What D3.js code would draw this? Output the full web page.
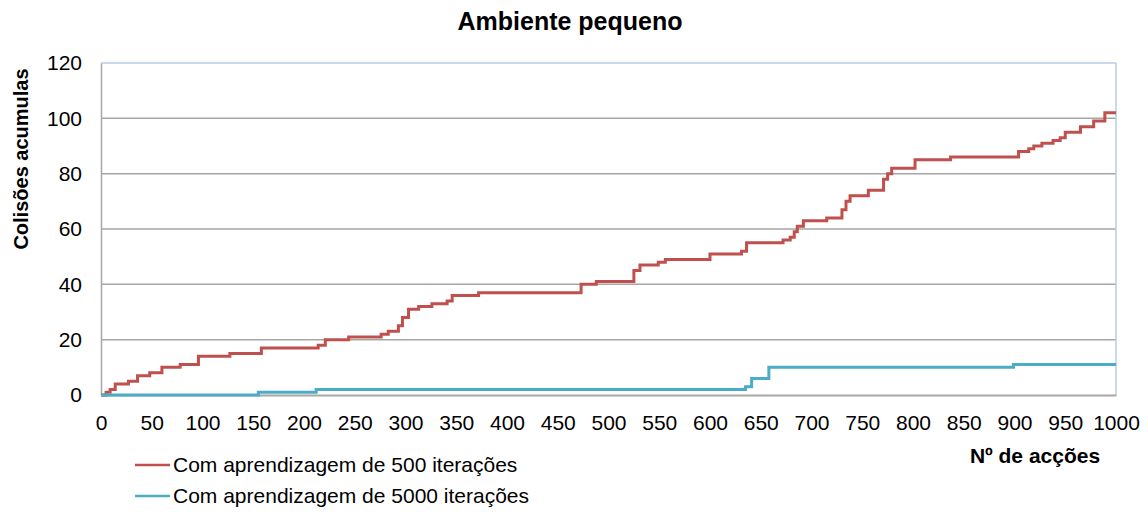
<!doctype html>
<html lang="pt">
<head>
<meta charset="utf-8">
<title>Ambiente pequeno</title>
<script src="https://d3js.org/d3.v7.min.js"></script>
<style>
  body { margin: 0; background: #fff; }
  svg { font-family: "Liberation Sans", Arial, Helvetica, sans-serif; }
  .tick text { font-size: 21px; fill: #000; }
  .grid line { stroke: #a6a6a6; stroke-width: 1.5px; }
  .title, .axis-title { font-weight: bold; fill: #000; }
</style>
</head>
<body>
<svg width="1148" height="514"></svg>
<script>
// data: action where the count changes, new count
var redActions = [0, 5, 9, 14, 27, 36, 48, 60, 78, 96, 127, 158, 214, 221, 244, 276, 283, 293, 297, 303, 313, 326, 341, 346, 372, 473, 488, 525, 531, 549, 556, 600, 631, 636, 672, 679, 683, 686, 692, 715, 730, 734, 738, 756, 771, 775, 779, 802, 837, 904, 914, 919, 927, 938, 945, 950, 965, 978, 989, 1000];
var redValues  = [0, 1, 2, 4, 5, 7, 8, 10, 11, 14, 15, 17, 18, 20, 21, 22, 23, 25, 28, 31, 32, 33, 34, 36, 37, 40, 41, 45, 47, 48, 49, 51, 52, 55, 56, 57, 59, 61, 63, 64, 67, 70, 72, 74, 78, 80, 82, 85, 86, 88, 89, 90, 91, 92, 93, 95, 97, 99, 102, 102];

var blueActions = [0, 155, 212, 635, 641, 658, 899, 1000];
var blueValues  = [0, 1, 2, 3, 6, 10, 11, 11];

var xTicks = d3.range(0, 1001, 50);
var yTicks = [0, 20, 40, 60, 80, 100, 120];

var seriesNames = ["Com aprendizagem de 500 iterações", "Com aprendizagem de 5000 iterações"];
var colors = ["#c0504d", "#4bacc6"];

var svg = d3.select("svg");
var plotLeft = 101, plotRight = 1116, plotTop = 63, plotBottom = 395;

var x = d3.scaleLinear().domain([0, 1000]).range([plotLeft, plotRight]);
var y = d3.scaleLinear().domain([0, 120]).range([plotBottom, plotTop]);

// grid
svg.append("g").attr("class", "grid")
  .selectAll("line").data(yTicks.slice(1, -1)).enter().append("line")
  .attr("x1", plotLeft).attr("x2", plotRight)
  .attr("y1", function (d) { return y(d); }).attr("y2", function (d) { return y(d); });

// plot border top/right
svg.append("line").attr("x1", plotLeft).attr("x2", plotRight).attr("y1", plotTop).attr("y2", plotTop)
  .attr("stroke", "#b9cde5").attr("stroke-width", 1.5);
svg.append("line").attr("x1", plotRight).attr("x2", plotRight).attr("y1", plotTop).attr("y2", plotBottom)
  .attr("stroke", "#b9cde5").attr("stroke-width", 1.5);

// axes
var yAxis = svg.append("g").attr("transform", "translate(" + plotLeft + ",0)")
  .call(d3.axisLeft(y).tickValues(yTicks).tickSize(0).tickPadding(19));
yAxis.select(".domain").attr("stroke", "#a6a6a6").attr("stroke-width", 1.5);

var xAxis = svg.append("g").attr("transform", "translate(0," + plotBottom + ")")
  .call(d3.axisBottom(x).tickValues(xTicks).tickFormat(d3.format("d")).tickSize(0).tickPadding(20));
xAxis.select(".domain").attr("stroke", "#a6a6a6").attr("stroke-width", 2);

// lines
var line = d3.line()
  .x(function (d) { return x(d[0]); })
  .y(function (d) { return y(d[1]); })
  .curve(d3.curveStepAfter);

var series = [d3.zip(redActions, redValues), d3.zip(blueActions, blueValues)];
svg.selectAll(".series").data(series).enter().append("path")
  .attr("class", "series")
  .attr("fill", "none")
  .attr("stroke", function (d, i) { return colors[i]; })
  .attr("stroke-width", 3)
  .attr("d", line);

// titles
svg.append("text").attr("class", "title")
  .attr("x", 570).attr("y", 30).attr("text-anchor", "middle")
  .style("font-size", "25px").text("Ambiente pequeno");

svg.append("text").attr("class", "axis-title")
  .attr("transform", "translate(28,159) rotate(-90)")
  .attr("text-anchor", "middle").style("font-size", "20px")
  .text("Colisões acumulas");

svg.append("text").attr("class", "axis-title")
  .attr("x", 1035).attr("y", 463).attr("text-anchor", "middle")
  .style("font-size", "21px").text("Nº de acções");

// legend
var legend = svg.selectAll(".legend").data(seriesNames).enter().append("g")
  .attr("class", "legend")
  .attr("transform", function (d, i) { return "translate(135," + (465 + i * 31) + ")"; });
legend.append("line").attr("x1", 0).attr("x2", 35)
  .attr("stroke", function (d, i) { return colors[i]; }).attr("stroke-width", 2.5);
legend.append("text").attr("x", 38).attr("dy", "0.35em")
  .style("font-size", "21px").text(function (d) { return d; });
</script>
</body>
</html>
